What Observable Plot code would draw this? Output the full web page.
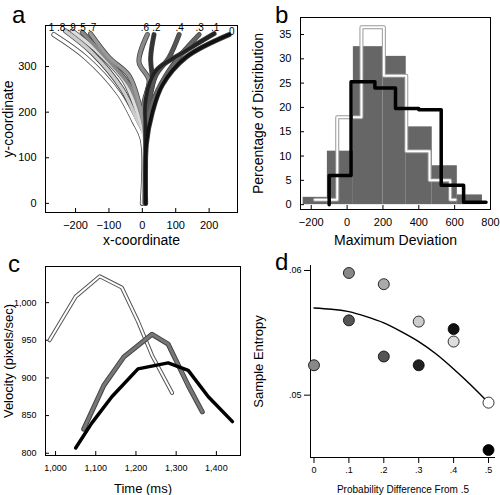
<!DOCTYPE html>
<html><head><meta charset="utf-8">
<script src="https://cdn.jsdelivr.net/npm/d3@7"></script>
<script src="https://cdn.jsdelivr.net/npm/@observablehq/plot@0.6"></script>
<style>
body{margin:0;background:#fff;font-family:"Liberation Sans",Arial,sans-serif}
.p{position:absolute;width:250px;height:247px}
.l{position:absolute;font-size:24px;line-height:1}
</style></head><body>
<div class="p" id="a" style="left:0;top:0"></div>
<div class="p" id="b" style="left:250px;top:0"></div>
<div class="p" id="c" style="left:0;top:248px"></div>
<div class="p" id="d" style="left:250px;top:248px"></div>
<div class="l" style="left:12px;top:3px">a</div>
<div class="l" style="left:275px;top:3px">b</div>
<div class="l" style="left:8px;top:252px">c</div>
<div class="l" style="left:275px;top:250px">d</div>
<script>
// panel a: trajectories (label, colour, points)
const trajLabels = ["1", ".8", ".9", ".5", ".7", ".6", ".2", ".4", ".3", ".1", "0"]
const trajColors = ["#fff", "#ccc", "#ddd", "#888", "#999", "#8a8a8a", "#333", "#555", "#666", "#222", "#111"]
const trajPts = [
  [[0,0],[0,140],[-25,180],[-70,240],[-170,320],[-265,370]],
  [[3,0],[5,150],[-20,190],[-60,250],[-150,330],[-230,378]],
  [[3,0],[5,150],[-15,200],[-55,270],[-130,330],[-210,378]],
  [[5,0],[6,160],[-10,210],[-40,260],[-110,320],[-180,375]],
  [[5,0],[7,160],[-10,220],[-40,280],[-100,320],[-155,372]],
  [[7,0],[8,150],[5,220],[20,270],[-10,310],[15,370]],
  [[7,0],[8,150],[15,220],[30,260],[25,320],[35,370]],
  [[8,0],[9,150],[20,220],[40,280],[80,320],[110,370]],
  [[8,0],[10,150],[30,220],[70,280],[120,330],[170,370]],
  [[9,0],[10,150],[10,230],[40,290],[120,330],[215,372]],
  [[10,0],[12,130],[30,200],[60,260],[130,320],[260,370]]
]
const trajEnd = [[-272,384],[-243,384],[-212,384],[-182,384],[-150,384],[8,384],[42,384],[112,384],[172,384],[218,384],[268,377]]

// panel b: histograms
const grayEdges = [-245, -110, 35, 200, 330, 475, 615, 755]
const grayVals = [1.5, 11, 32.5, 30.5, 16, 8, 2]
const whiteX = [-180, -55, 80, 205, 330, 460, 575, 605]
const whiteY = [1, 18, 36.5, 26.5, 11, 5, 1, 1]
const blackX = [-100, -100, 22, 155, 270, 400, 525, 650, 775]
const blackY = [0, 6, 25.3, 24, 19.8, 19.5, 4, 0.5, 0.5]

// panel c: velocity
const whiteT = [985, 1050, 1110, 1165, 1205, 1240, 1290]
const whiteV = [950, 1008, 1035, 1020, 975, 930, 880]
const grayT = [1070, 1120, 1170, 1240, 1280, 1330, 1365]
const grayV = [832, 890, 928, 958, 945, 890, 855]
const blackT = [1050, 1090, 1140, 1205, 1280, 1330, 1380, 1440]
const blackV = [807, 840, 875, 912, 920, 910, 875, 842]

// panel d: sample entropy
const dotX = [0, .1, .1, .2, .2, .3, .3, .4, .4, .5, .5]
const dotY = [.0524, .0598, .0560, .0589, .0531, .0559, .0524, .0553, .0543, .0494, .0456]
const dotFill = ["#888", "#888", "#555", "#aaa", "#555", "#ccc", "#222", "#111", "#ddd", "#fff", "#000"]
const fitX = [0, .05, .1, .15, .2, .25, .3, .35, .4, .45, .5]
const fitY = [.0570, .0569, .0567, .0563, .0558, .0551, .0543, .0533, .0521, .0508, .0494]

const st = {fontSize: "11px", fontFamily: "Liberation Sans, Arial, sans-serif", background: "white"}
const lab = {labelAnchor: "center", labelArrow: "none"}

const trajData = trajPts.flatMap((ps, i) => ps.map(([x, y]) => ({x, y, k: trajLabels[i], c: trajColors[i]})))
const A = Plot.plot({
  width: 250, height: 247, marginLeft: 45, marginRight: 13, marginTop: 25, marginBottom: 35, style: st,
  x: {domain: [-290, 285], ticks: [-200, -100, 0, 100, 200], label: "x-coordinate", ...lab, tickSize: -4},
  y: {domain: [-20, 390], ticks: [0, 100, 200, 300], label: "y-coordinate", ...lab, tickSize: -4},
  marks: [
    Plot.frame(),
    Plot.line(trajData, {x: "x", y: "y", z: "k", stroke: "#444", strokeWidth: 5, curve: "catmull-rom"}),
    Plot.line(trajData, {x: "x", y: "y", z: "k", stroke: "c", strokeWidth: 3.5, curve: "catmull-rom"}),
    Plot.text(trajLabels, {x: (d, i) => trajEnd[i][0], y: (d, i) => trajEnd[i][1], text: d => d, fontSize: 10})
  ]
})
A.querySelectorAll("[aria-label='y-axis label'] text, [aria-label='x-axis label'] text").forEach(t => t.style.fontSize = "14px")
document.getElementById("a").append(A)

const grayData = grayVals.map((v, i) => ({x1: grayEdges[i], x2: grayEdges[i + 1], y: v}))
const B = Plot.plot({
  width: 250, height: 247, marginLeft: 50, marginRight: 10, marginTop: 17, marginBottom: 38, style: st,
  x: {domain: [-260, 800], ticks: [-200, 0, 200, 400, 600, 800], label: "Maximum Deviation", ...lab, tickSize: -4},
  y: {domain: [-1, 38.5], ticks: [0, 5, 10, 15, 20, 25, 30, 35], label: "Percentage of Distribution", ...lab, tickSize: -4},
  marks: [
    Plot.frame(),
    Plot.rectY(grayData, {x1: "x1", x2: "x2", y: "y", fill: "#666"}),
    Plot.line(whiteX, {x: d => d, y: (d, i) => whiteY[i], curve: "step-after", stroke: "#999", strokeWidth: 4}),
    Plot.line(whiteX, {x: d => d, y: (d, i) => whiteY[i], curve: "step-after", stroke: "#fff", strokeWidth: 2}),
    Plot.line(blackX, {x: d => d, y: (d, i) => blackY[i], curve: "step-after", stroke: "#000", strokeWidth: 3.5})
  ]
})
B.querySelectorAll("[aria-label='y-axis label'] text, [aria-label='x-axis label'] text").forEach(t => t.style.fontSize = "14px")
document.getElementById("b").append(B)

const C = Plot.plot({
  width: 250, height: 247, marginLeft: 45, marginRight: 10, marginTop: 18, marginBottom: 40, style: {...st, fontSize: "9px"},
  x: {domain: [975, 1460], ticks: [1000, 1100, 1200, 1300, 1400], tickFormat: d3.format(","), label: "Time (ms)", ...lab, tickSize: -4},
  y: {domain: [797, 1048], ticks: [800, 850, 900, 950, 1000], tickFormat: d3.format(","), label: "Velocity (pixels/sec)", ...lab, tickSize: -4},
  marks: [
    Plot.frame(),
    Plot.line(whiteT, {x: d => d, y: (d, i) => whiteV[i], stroke: "#555", strokeWidth: 4}),
    Plot.line(whiteT, {x: d => d, y: (d, i) => whiteV[i], stroke: "#fff", strokeWidth: 2}),
    Plot.line(grayT, {x: d => d, y: (d, i) => grayV[i], stroke: "#444", strokeWidth: 5}),
    Plot.line(grayT, {x: d => d, y: (d, i) => grayV[i], stroke: "#777", strokeWidth: 3}),
    Plot.line(blackT, {x: d => d, y: (d, i) => blackV[i], stroke: "#000", strokeWidth: 3.5})
  ]
})
C.querySelectorAll("[aria-label='y-axis label'] text, [aria-label='x-axis label'] text").forEach(t => t.style.fontSize = "13px")
document.getElementById("c").append(C)

const D = Plot.plot({
  width: 250, height: 247, marginLeft: 60, marginRight: 5, marginTop: 17, marginBottom: 38, style: {...st, fontSize: "9px"},
  x: {domain: [-.01, .52], ticks: [0, .1, .2, .3, .4, .5], tickFormat: d => d === 0 ? "0" : d3.format(".1f")(d).slice(1), label: "Probability Difference From .5", ...lab},
  y: {domain: [.045, .0604], ticks: [.05, .06], tickFormat: d => d3.format(".2f")(d).slice(1), label: "Sample Entropy", ...lab},
  marks: [
    Plot.ruleX([-.01]), Plot.ruleY([.045]),
    Plot.line(fitX, {x: d => d, y: (d, i) => fitY[i], stroke: "#000", curve: "natural"}),
    Plot.dot(dotX, {x: d => d, y: (d, i) => dotY[i], r: 5.5, fill: (d, i) => dotFill[i], stroke: "#000", strokeWidth: 0.8})
  ]
})
D.querySelectorAll("[aria-label='y-axis label'] text").forEach(t => t.style.fontSize = "13px")
D.querySelectorAll("[aria-label='x-axis label'] text").forEach(t => t.style.fontSize = "10px")
document.getElementById("d").append(D)
</script></body></html>
